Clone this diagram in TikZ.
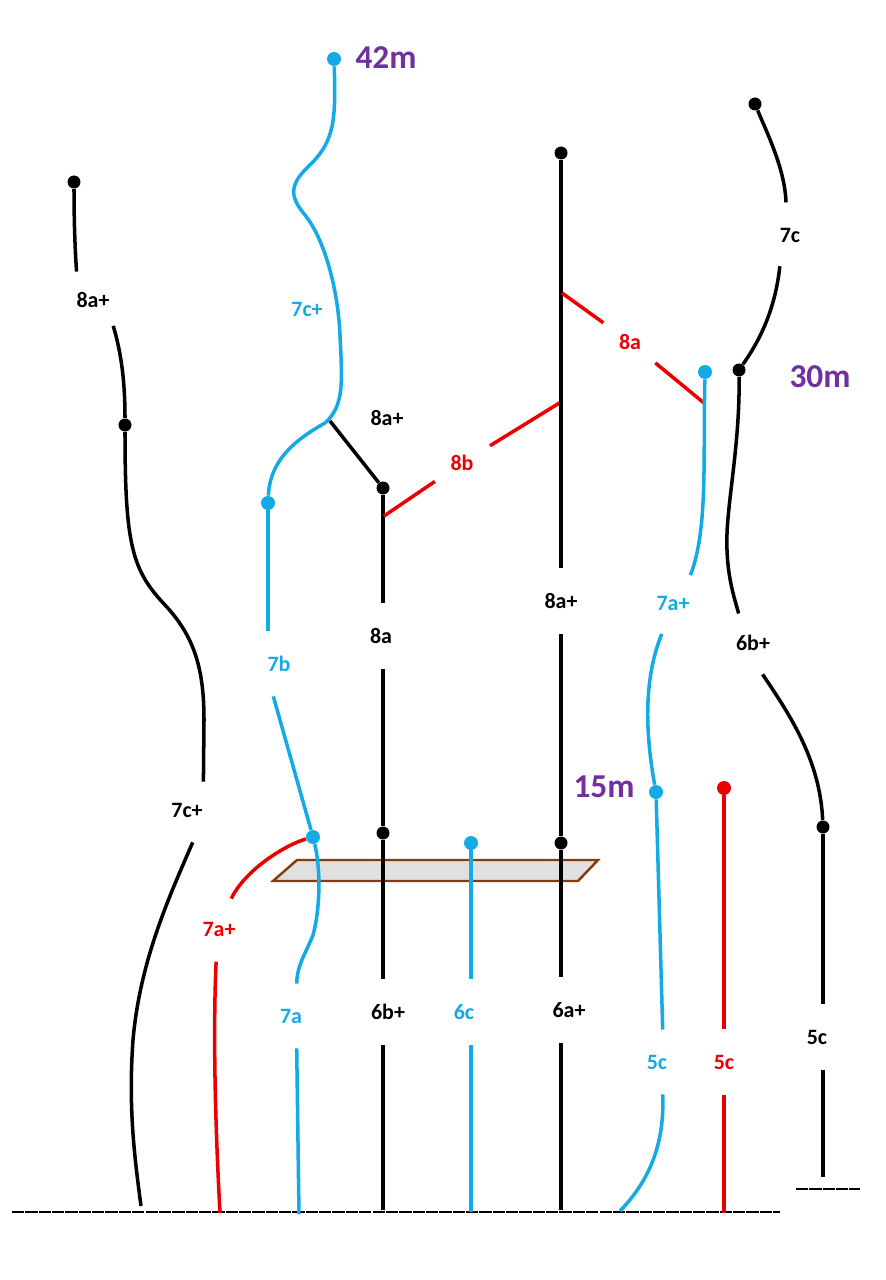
\documentclass[tikz,border=0pt]{standalone}
\usepackage{fontspec}
\setmainfont{Carlito}
\definecolor{routeblue}{RGB}{20,170,230}
\definecolor{routered}{RGB}{235,0,0}
\definecolor{heightpurple}{RGB}{112,48,160}
\definecolor{ledgebrown}{RGB}{132,60,12}
\definecolor{ledgegray}{RGB}{224,224,224}
\tikzset{
  route/.style={line width=2pt},
  bk/.style={route,black},
  bl/.style={route,routeblue},
  rd/.style={route,routered},
  grade/.style={circle,minimum size=1.3cm,inner sep=0pt,font=\bfseries\fontsize{12.5}{14}\selectfont},
  bolt/.style={circle,fill,inner sep=0pt,minimum size=0.26cm},
  height/.style={font=\bfseries\fontsize{19}{22}\selectfont,text=heightpurple},
  ground/.style={line width=0.6pt,dash pattern=on 7pt off 0.6pt},
}
\begin{document}
\begin{tikzpicture}[x=0.02cm,y=-0.02cm]
  \fill[white] (0,0) rectangle (885,1280);
  \useasboundingbox (0,0) rectangle (885,1280);

  \draw[ledgebrown,fill=ledgegray,line width=1.4pt] (297,860) -- (598,860) -- (578,881) -- (273,881) -- cycle;
  \draw[ground] (12,1212) -- (780,1212);
  \draw[ground] (796,1189) -- (860,1189);

  \node[bolt] (k1) at (74,182) {};
  \node[bolt] (k2) at (125,425) {};
  \node[bolt] (k3) at (383,488) {};
  \node[bolt] (k4) at (383,833) {};
  \node[bolt] (k5) at (561,153) {};
  \node[bolt] (k6) at (561,843) {};
  \node[bolt] (k7) at (755,104) {};
  \node[bolt] (k8) at (739,370) {};
  \node[bolt] (k9) at (823,827) {};
  \node[bolt,routeblue,minimum size=0.28cm] (b1) at (334,59) {};
  \node[bolt,routeblue,minimum size=0.28cm] (b2) at (268,503) {};
  \node[bolt,routeblue,minimum size=0.28cm] (b3) at (313,837) {};
  \node[bolt,routeblue,minimum size=0.28cm] (b4) at (471,843) {};
  \node[bolt,routeblue,minimum size=0.28cm] (b5) at (705,372) {};
  \node[bolt,routeblue,minimum size=0.28cm] (b6) at (656,792) {};
  \node[bolt,routered,minimum size=0.28cm] (r1) at (724,788) {};

  \node[grade] (g1) at (93,300) {8a+};
  \node[grade] (g2) at (187,810) {7c+};
  \node[grade,text=routeblue] (g3) at (307,309) {7c+};
  \node[grade] (g4) at (387,418) {8a+};
  \node[grade,text=routeblue] (g5) at (279,664) {7b};
  \node[grade,text=routered] (g6) at (219,929) {7a+};
  \node[grade,text=routeblue] (g7) at (291,1016) {7a};
  \node[grade] (g8) at (381,636) {8a};
  \node[grade] (g9) at (388,1012) {6b+};
  \node[grade,text=routeblue] (g10) at (464,1012) {6c};
  \node[grade,text=routered] (g11) at (462,463) {8b};
  \node[grade] (g12) at (561,601) {8a+};
  \node[grade] (g13) at (569,1010) {6a+};
  \node[grade,text=routered] (g14) at (630,342) {8a};
  \node[grade,text=routeblue] (g15) at (673,603) {7a+};
  \node[grade,text=routeblue] (g16) at (657,1062) {5c};
  \node[grade,text=routered] (g17) at (724,1062) {5c};
  \node[grade] (g18) at (790,235) {7c};
  \node[grade] (g19) at (753,643) {6b+};
  \node[grade] (g20) at (817,1037) {5c};

  \node[height] (h42) at (386,58) {42m};
  \node[height] (h30) at (820,377) {30m};
  \node[height] (h15) at (604,787) {15m};

  \coordinate (j1) at (330,421);
  \coordinate (j2) at (384,516);
  \coordinate (j3) at (561,402);
  \coordinate (j4) at (562,293);
  \coordinate (j5) at (704,403);
  \coordinate (e1) at (141,1206);
  \coordinate (e6) at (220,1213);
  \coordinate (e7) at (299,1214);
  \coordinate (e8) at (383,1210);
  \coordinate (e9) at (561,1210);
  \coordinate (e10) at (471,1212);
  \coordinate (e11) at (620,1211);
  \coordinate (e12) at (724,1213);
  \coordinate (e13) at (823,1177);

  \draw[bk] (k1) .. controls (74,220) and (75,250) .. (g1.120);
  \draw[bk] (g1.-52) .. controls (122,355) and (125,385) .. (k2);
  \draw[bk] (k2) .. controls (125,545) and (132,570) .. (165,605) .. controls (195,637) and (204,670) .. (204,720) -- (g2.60);
  \draw[bk] (g2.-80) .. controls (170,895) and (140,960) .. (133,1040) .. controls (128,1110) and (135,1160) .. (e1);

  \draw[bl] (b1) .. controls (336,120) and (334,140) .. (312,163) .. controls (290,183) and (288,195) .. (305,215)
     .. controls (325,240) and (338,290) .. (340,335) .. controls (342,380) and (345,405) .. (325,423)
     .. controls (295,440) and (270,460) .. (b2);
  \draw[bk] (j1) -- (k3);
  \draw[bl] (b2) -- (b2 |- g5.north);
  \draw[bl] (g5.-100) -- (b3);
  \draw[bl] (b3) .. controls (321,870) and (320,910) .. (313,935) .. controls (305,955) and (297,965) .. (g7.80);
  \draw[bl] (g7.-80) -- (e7);
  \draw[rd] (b3) .. controls (285,845) and (245,870) .. (g6.68);
  \draw[rd] (g6.-95) .. controls (213,1030) and (215,1120) .. (e6);

  \draw[bk] (k3) -- (k3 |- g8.north);
  \draw[bk] (k3 |- g8.south) -- (k4);
  \draw[bk] (k4) -- (k4 |- g9.north);
  \draw[bk] (k4 |- g9.south) -- (e8);
  \draw[rd] (j2) -- (g11);
  \draw[rd] (g11) -- (j3);

  \draw[bk] (k5) -- (k5 |- g12.north);
  \draw[bk] (k5 |- g12.south) -- (k6);
  \draw[bk] (k6) -- (k6 |- g13.north);
  \draw[bk] (k6 |- g13.south) -- (e9);
  \draw[rd] (j4) -- (g14);
  \draw[rd] (g14) -- (j5);

  \draw[bl] (b4) -- (b4 |- g10.north);
  \draw[bl] (b4 |- g10.south) -- (e10);

  \draw[bl] (b5) .. controls (703,460) and (708,530) .. (g15.58);
  \draw[bl] (g15.-110) .. controls (648,668) and (642,715) .. (b6);
  \draw[bl] (b6) -- (g16.80);
  \draw[bl] (g16.-80) .. controls (665,1150) and (645,1185) .. (e11);

  \draw[rd] (r1) -- (r1 |- g17.north);
  \draw[rd] (r1 |- g17.south) -- (e12);

  \draw[bk] (k7) .. controls (768,135) and (785,170) .. (g18.97);
  \draw[bk] (g18.-108) .. controls (775,310) and (760,340) .. (k8);
  \draw[bk] (k8) .. controls (740,450) and (725,510) .. (727,550) .. controls (728,580) and (735,600) .. (g19.116);
  \draw[bk] (g19.-73) .. controls (790,715) and (820,760) .. (k9);
  \draw[bk] (k9) -- (k9 |- g20.north);
  \draw[bk] (k9 |- g20.south) -- (e13);
\end{tikzpicture}
\end{document}
